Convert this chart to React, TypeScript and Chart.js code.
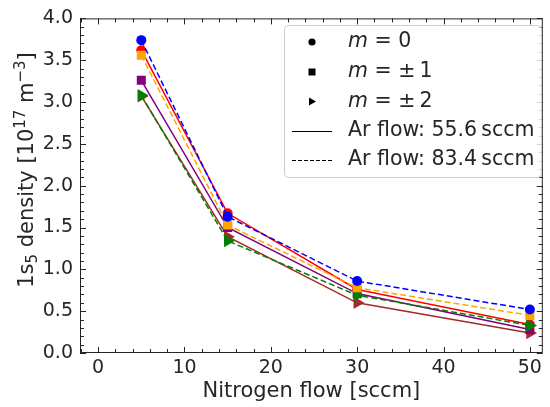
import React, { useEffect, useRef } from "react";
import { Chart, registerables } from "chart.js";
Chart.register(...registerables);

const nitrogenFlow = [5, 15, 30, 50];
// Ar flow 55.6 sccm (solid)
const m0Ar556 = [3.62, 1.67, 0.76, 0.34];
const m1Ar556 = [3.26, 1.5, 0.71, 0.28];
const m2Ar556 = [3.07, 1.39, 0.6, 0.24];
// Ar flow 83.4 sccm (dashed)
const m0Ar834 = [3.74, 1.63, 0.86, 0.52];
const m1Ar834 = [3.56, 1.53, 0.78, 0.45];
const m2Ar834 = [3.08, 1.34, 0.69, 0.33];

const xTickValues = [0, 10, 20, 30, 40, 50];
const yTickValues = [0, 0.5, 1, 1.5, 2, 2.5, 3, 3.5, 4];
const legendMarkerLabels = ["0", "\u00b1\u20091", "\u00b1\u20092"];
const legendLineLabels = ["Ar flow: 55.6\u2009sccm", "Ar flow: 83.4\u2009sccm"];
const yTitleParts: [string, number][] = [
  ["1s", 0],
  ["5", -1],
  [" density [10", 0],
  ["17", 1],
  [" m", 0],
  ["\u22123", 1],
  ["]", 0],
];

const FONT = "'DejaVu Sans', sans-serif";
const TEXT = "#262626";

const dashed = [6, 3];

function ds(label: string, data: number[], color: string, style: string, dash: boolean) {
  return {
    label,
    data: nitrogenFlow.map((x, i) => ({ x, y: data[i] })),
    borderColor: color,
    backgroundColor: color,
    borderWidth: 1.5,
    borderDash: dash ? dashed : [],
    pointStyle: style,
    pointRadius: style === "circle" ? 5 : style === "rect" ? 6.4 : 7.2,
    pointRotation: style === "triangle" ? 90 : 0,
    pointBorderWidth: 0,
    pointBorderColor: color,
    pointBackgroundColor: color,
    fill: false,
    tension: 0,
  };
}

const framePlugin = {
  id: "frame",
  afterDatasetsDraw(chart: any) {
    const { ctx, chartArea, scales } = chart;
    const { left, right, top, bottom } = chartArea;
    const x = scales.x;
    const y = scales.y;
    ctx.save();
    ctx.strokeStyle = TEXT;
    ctx.lineWidth = 1;
    ctx.beginPath();
    const xMin = x.min, xMax = x.max;
    for (let v = Math.ceil(xMin / 2) * 2; v <= xMax; v += 2) {
      const major = v % 10 === 0;
      const len = major ? 6 : 4;
      const px = Math.round(x.getPixelForValue(v)) + 0.5;
      ctx.moveTo(px, bottom);
      ctx.lineTo(px, bottom - len);
      ctx.moveTo(px, top);
      ctx.lineTo(px, top + len);
    }
    for (let i = 0; i <= 40; i++) {
      const v = i / 10;
      const major = i % 5 === 0;
      const len = major ? 6 : 4;
      const py = Math.round(y.getPixelForValue(v)) + 0.5;
      ctx.moveTo(left, py);
      ctx.lineTo(left + len, py);
      ctx.moveTo(right, py);
      ctx.lineTo(right - len, py);
    }
    ctx.stroke();
    ctx.strokeRect(left + 0.5, top + 0.5, right - left - 1, bottom - top - 1);
    ctx.restore();
  },
  afterDraw(chart: any) {
    const { ctx } = chart;
    ctx.save();
    // y-axis title (mathtext-like)
    const mainSize = 21;
    const smallSize = 15;
    let total = 0;
    for (const [t, lvl] of yTitleParts) {
      ctx.font = `${lvl === 0 ? mainSize : smallSize}px ${FONT}`;
      total += ctx.measureText(t).width;
    }
    ctx.translate(33, 170);
    ctx.rotate(-Math.PI / 2);
    ctx.fillStyle = TEXT;
    ctx.textBaseline = "alphabetic";
    ctx.textAlign = "left";
    let cx = -total / 2;
    for (const [t, lvl] of yTitleParts) {
      ctx.font = `${lvl === 0 ? mainSize : smallSize}px ${FONT}`;
      const dy = lvl === 1 ? -8 : lvl === -1 ? 4 : 0;
      ctx.fillText(t, cx, dy);
      cx += ctx.measureText(t).width;
    }
    ctx.restore();

    ctx.save();
    // legend box
    const bx = 284.5, by = 25.5, bw = 257, bh = 152;
    ctx.beginPath();
    ctx.roundRect(bx, by, bw, bh, 4);
    ctx.fillStyle = "rgba(255,255,255,0.8)";
    ctx.fill();
    ctx.strokeStyle = "#cccccc";
    ctx.lineWidth = 1;
    ctx.stroke();

    const rows = [42, 72, 101.5, 130.5, 160];
    const mx = 312;
    const tx = 348;
    ctx.fillStyle = "#000";
    ctx.beginPath();
    ctx.arc(mx, rows[0], 3.6, 0, Math.PI * 2);
    ctx.fill();
    ctx.fillRect(mx - 3.5, rows[1] - 3.5, 7, 7);
    ctx.beginPath();
    ctx.moveTo(mx + 4, rows[2]);
    ctx.lineTo(mx - 3, rows[2] - 4);
    ctx.lineTo(mx - 3, rows[2] + 4);
    ctx.closePath();
    ctx.fill();
    ctx.strokeStyle = "#000";
    ctx.lineWidth = 1;
    const l1 = Math.round(rows[3]) + 0.5;
    const l2 = Math.round(rows[4]) + 0.5;
    ctx.beginPath();
    ctx.moveTo(292, l1);
    ctx.lineTo(332, l1);
    ctx.stroke();
    ctx.setLineDash([4, 2]);
    ctx.beginPath();
    ctx.moveTo(292, l2);
    ctx.lineTo(332, l2);
    ctx.stroke();
    ctx.setLineDash([]);

    const lsize = 20.5;
    ctx.fillStyle = TEXT;
    ctx.textBaseline = "middle";
    ctx.textAlign = "left";
    for (let i = 0; i < 3; i++) {
      ctx.font = `italic ${lsize}px ${FONT}`;
      ctx.fillText("m", tx, rows[i]);
      const w = ctx.measureText("m").width;
      ctx.font = `${lsize}px ${FONT}`;
      ctx.fillText(" = " + legendMarkerLabels[i], tx + w, rows[i]);
    }
    ctx.font = `${lsize}px ${FONT}`;
    ctx.fillText(legendLineLabels[0], tx, rows[3]);
    ctx.fillText(legendLineLabels[1], tx, rows[4]);
    ctx.restore();
  },
};

export default function App() {
  const ref = useRef<HTMLCanvasElement>(null);
  useEffect(() => {
    const canvas = ref.current!;
    const chart = new Chart(canvas, {
      type: "line",
      data: {
        datasets: [
          ds("m=0, 83.4", m0Ar834, "#0000ff", "circle", true),
          ds("m=±1, 83.4", m1Ar834, "#ffa500", "rect", true),
          ds("m=±2, 83.4", m2Ar834, "#008000", "triangle", true),
          ds("m=0, 55.6", m0Ar556, "#ff0000", "circle", false),
          ds("m=±1, 55.6", m1Ar556, "#800080", "rect", false),
          ds("m=±2, 55.6", m2Ar556, "#a52a2a", "triangle", false),
        ] as any,
      },
      options: {
        responsive: false,
        animation: false,
        devicePixelRatio: 1,
        layout: { padding: { top: 15, right: 2, left: 0, bottom: 0 } },
        plugins: { legend: { display: false }, tooltip: { enabled: false } },
        scales: {
          x: {
            type: "linear",
            min: -2.1,
            max: 51.5,
            grid: { display: false, drawTicks: false },
            border: { display: false },
            afterBuildTicks: (s: any) => {
              s.ticks = xTickValues.map((v) => ({ value: v }));
            },
            afterFit: (s: any) => {
              s.height = 54;
            },
            ticks: {
              color: TEXT,
              font: { family: FONT, size: 19 },
              padding: 4,
              maxRotation: 0,
              autoSkip: false,
              callback: (v: any) => String(v),
            },
            title: {
              display: true,
              text: "Nitrogen flow [sccm]",
              color: TEXT,
              font: { family: FONT, size: 21 },
              padding: { top: 0, bottom: 3 },
            },
          },
          y: {
            type: "linear",
            min: 0,
            max: 4,
            grid: { display: false, drawTicks: false },
            border: { display: false },
            afterBuildTicks: (s: any) => {
              s.ticks = yTickValues.map((v) => ({ value: v }));
            },
            afterFit: (s: any) => {
              s.width = 80;
            },
            ticks: {
              color: TEXT,
              font: { family: FONT, size: 19 },
              padding: 7,
              autoSkip: false,
              callback: (v: any) => Number(v).toFixed(1),
            },
          },
        },
      },
      plugins: [framePlugin],
    } as any);
    return () => chart.destroy();
  }, []);
  return (
    <div style={{ position: "absolute", left: 0, top: 0, width: 550, height: 407, background: "#fff" }}>
      <canvas ref={ref} width={550} height={407} />
    </div>
  );
}
